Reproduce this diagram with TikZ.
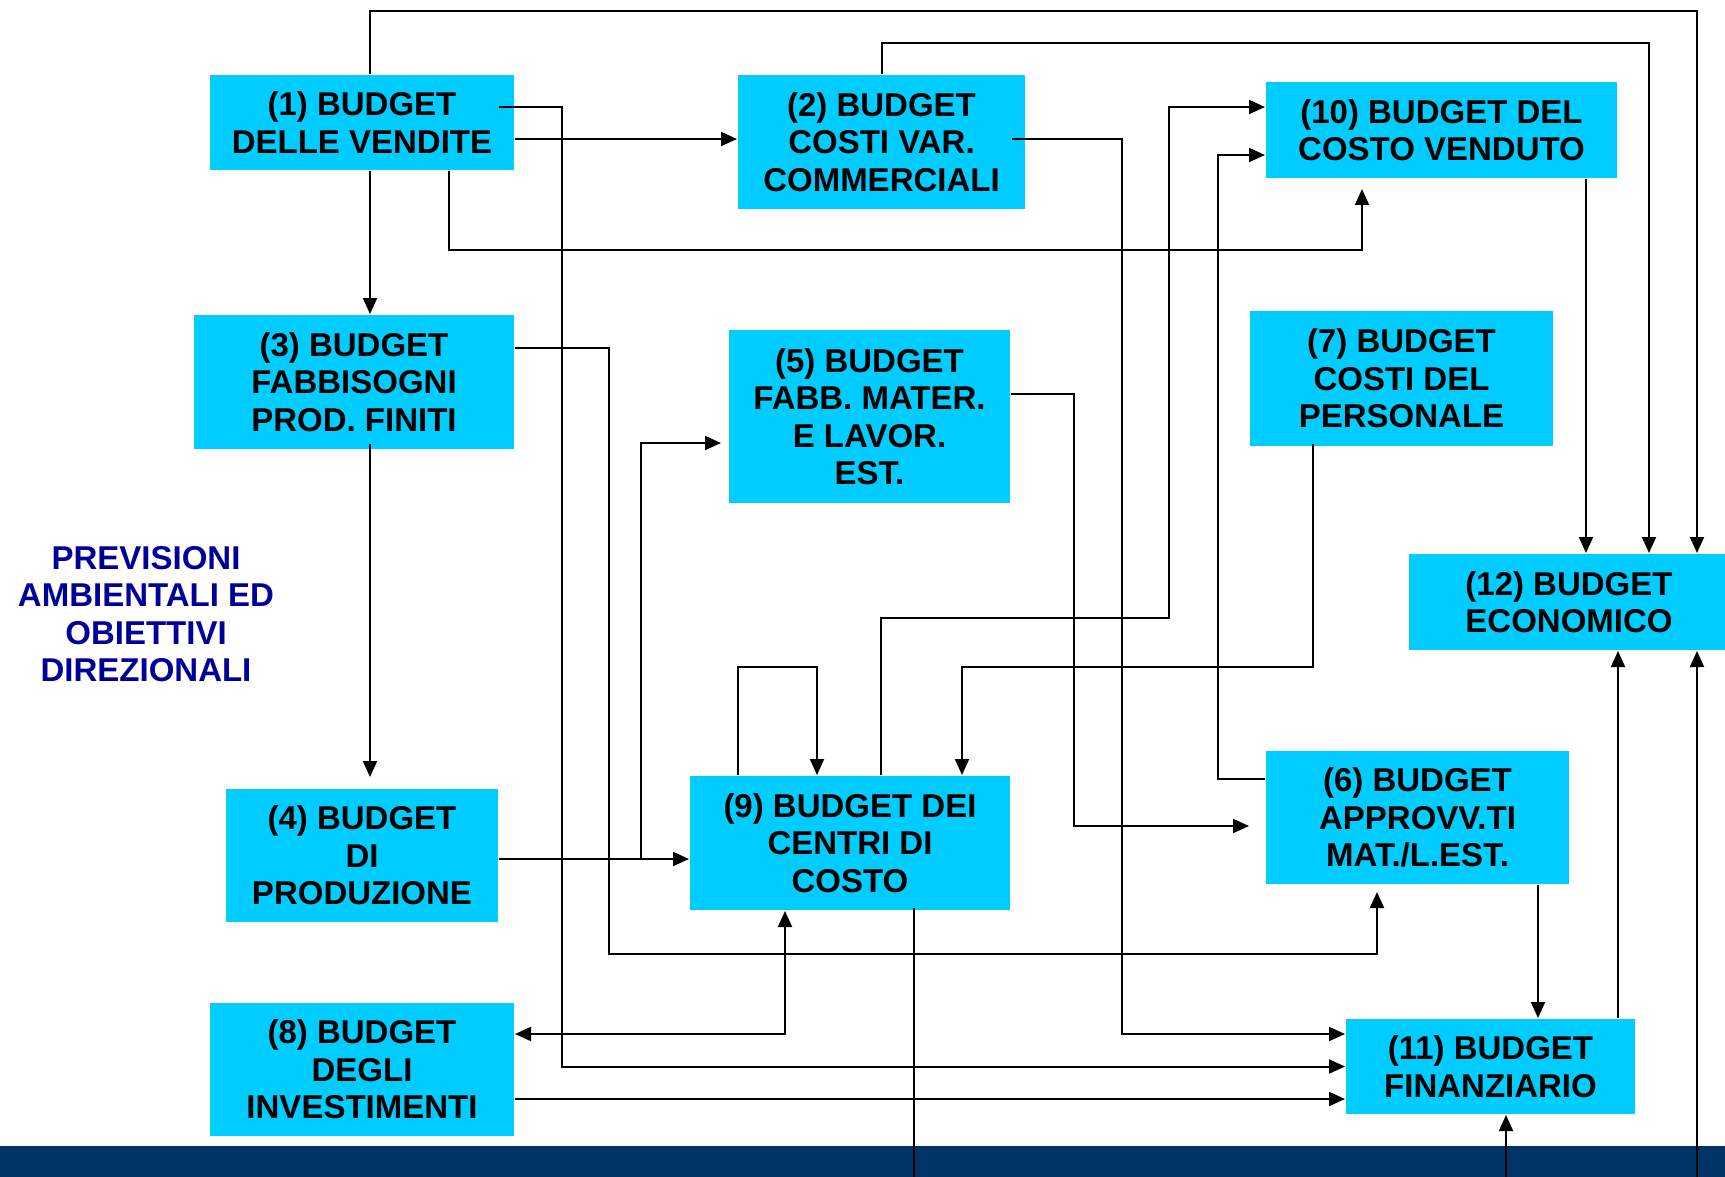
\documentclass[tikz,border=0pt]{standalone}
\usepackage{fontspec}
\setmainfont{Liberation Sans}
\usepackage{tikz}
\usetikzlibrary{arrows.meta}
\usepackage{xcolor}
\definecolor{budgetcyan}{HTML}{00CCFF}
\definecolor{footernavy}{HTML}{003366}
\definecolor{notenavy}{HTML}{000099}

\begin{document}
\begin{tikzpicture}[x=1pt, y=-1pt, line width=2pt, >={Triangle[length=16pt,width=14pt]}]
      \tikzstyle{budget} = [rectangle, fill=budgetcyan, inner sep=0pt, align=center, font=\bfseries\fontsize{33}{37.5}\selectfont]

      \useasboundingbox (0,0) rectangle (1725,1177);
      \fill[footernavy] (0,1146) rectangle (1725,1177);

      \node[budget, minimum width=304, minimum height=95] (b1) at (362,122.5) {(1) BUDGET\\DELLE VENDITE};
      \node[budget, minimum width=287, minimum height=134] (b2) at (881.5,142) {(2) BUDGET\\COSTI VAR.\\COMMERCIALI};
      \node[budget, minimum width=320, minimum height=134] (b3) at (354,382) {(3) BUDGET\\FABBISOGNI\\PROD. FINITI};
      \node[budget, minimum width=272, minimum height=133] (b4) at (362,855.5) {(4) BUDGET\\DI\\PRODUZIONE};
      \node[budget, minimum width=281, minimum height=173] (b5) at (869.5,416.5) {(5) BUDGET\\FABB. MATER.\\E LAVOR.\\EST.};
      \node[budget, minimum width=303, minimum height=133] (b6) at (1417.5,817.5) {(6) BUDGET\\APPROVV.TI\\MAT./L.EST.};
      \node[budget, minimum width=303, minimum height=135] (b7) at (1401.5,378.5) {(7) BUDGET\\COSTI DEL\\PERSONALE};
      \node[budget, minimum width=304, minimum height=133] (b8) at (362,1069.5) {(8) BUDGET\\DEGLI\\INVESTIMENTI};
      \node[budget, minimum width=320, minimum height=134] (b9) at (850,843) {(9) BUDGET DEI\\CENTRI DI\\COSTO};
      \node[budget, minimum width=351, minimum height=96] (b10) at (1441.5,130) {(10) BUDGET DEL\\COSTO VENDUTO};
      \node[budget, minimum width=289, minimum height=95] (b11) at (1490.5,1066.5) {(11) BUDGET\\FINANZIARIO};
      \node[budget, minimum width=320, minimum height=96] (b12) at (1569,602) {(12) BUDGET\\ECONOMICO};

      \node[align=center, text=notenavy, font=\bfseries\fontsize{33}{37.5}\selectfont] (prev) at (146,614) {PREVISIONI\\AMBIENTALI ED\\OBIETTIVI\\DIREZIONALI};

      \coordinate (out9) at (914,1177);
      \coordinate (in11) at (1506,1177);
      \coordinate (in12) at (1697,1177);

      \draw[->] ([xshift=8]b1.north) |- (1697,11) -- ([xshift=128]b12.north);
      \draw[->] ([xshift=-16,yshift=15.5]b1.east) -| (562,1066.5) -- (b11.west);
      \draw[->] ([yshift=-16.5]b1.east) -- ([yshift=-16.5]b1.east -| b2.west);
      \draw[->] ([xshift=8]b1.south) -- ([xshift=8]b1.south |- b3.north);
      \draw[->, shorten >=10pt] ([xshift=87]b1.south) |- (1362,250) -- ([xshift=-79.5]b10.south);

      \draw[->] ([xshift=-14,yshift=3]b2.east) -| (1122,1034) -- ([yshift=32.5]b11.west);
      \draw[->] (b2.north) |- (1649,43) -- ([xshift=80]b12.north);

      \draw[->, shorten >=7pt] ([yshift=34]b3.east) -| (609,954) -| ([xshift=-40.5]b6.south);
      \draw[->, shorten >=11pt] ([xshift=16,yshift=6]b3.south) -- ([xshift=16]b3.south |- b4.north);

      \draw[->] ([yshift=-3.5]b4.east) -- ([yshift=-3.5]b4.east -| b9.west);
      \draw[->, shorten >=7pt] ([yshift=-3.5]b4.east) -| (641,443) -- ([yshift=-26.5]b5.west);

      \draw[->, shorten >=16pt] ([yshift=22.5]b5.east) -| (1074,826) -- ([yshift=-8.5]b6.west);

      \draw[->] ([yshift=38.5]b6.west) -| (1218,155) -- ([yshift=-25]b10.west);
      \draw[->] ([xshift=120.5]b6.south) -- ([xshift=120.5]b6.south |- b11.north);

      \draw[->] ([xshift=-88.5,yshift=3]b7.south) |- (962,667) -- ([xshift=112]b9.north);

      \draw[<->] ([yshift=35.5]b8.east) -| ([xshift=-65]b9.south);
      \draw[->] ([yshift=-29.5]b8.east) -- ([yshift=-29.5]b8.east -| b11.west);

      \draw[->] ([xshift=31]b9.north) |- (1169,618) |- ([yshift=23]b10.west);
      \draw[->] ([xshift=-112]b9.north) |- (817,667) -- ([xshift=-33]b9.north);
      \draw ([xshift=64,yshift=3]b9.south) -- (out9);

      \draw[->] ([xshift=144.5]b10.south) -- ([xshift=144.5]b10.south |- b12.north);

      \draw[->] ([xshift=127.5]b11.north) -- ([xshift=127.5]b11.north |- b12.south);
      \draw[->] (in11) -- ([xshift=15.5]b11.south);
      \draw[->] (in12) -- ([xshift=128]b12.south);
\end{tikzpicture}
\end{document}
